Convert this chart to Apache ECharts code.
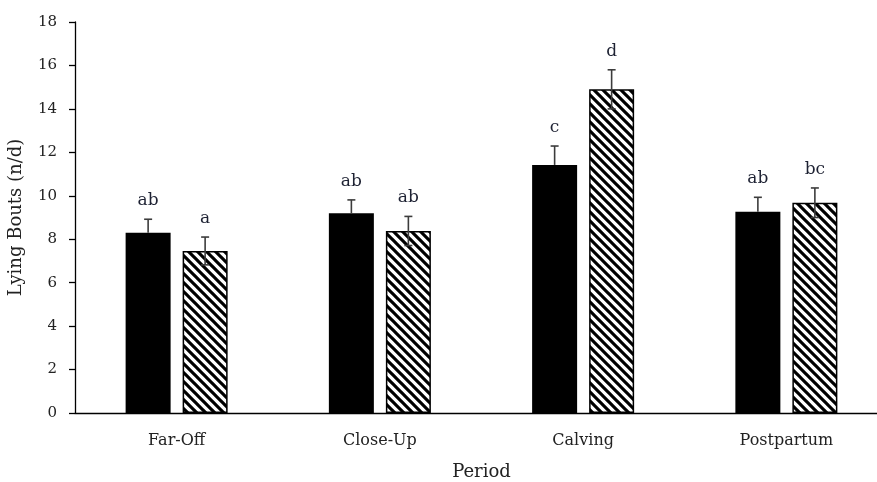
<!DOCTYPE html>
<html>
<head>
<meta charset="utf-8">
<script src="https://cdn.jsdelivr.net/npm/echarts@6/dist/echarts.min.js"></script>
<style>html,body{margin:0;padding:0;background:#fff}#c{width:877px;height:482px}</style>
</head>
<body>
<div id="c"></div>
<script>
// ---- data ----
const categories = ['Far-Off', 'Close-Up', 'Calving', 'Postpartum'];
const solidValues = [8.30, 9.19, 11.42, 9.27];
const solidErrors = [0.62, 0.62, 0.87, 0.66];
const solidLetters = ['ab', 'ab', 'c', 'ab'];
const hatchValues = [7.46, 8.38, 14.90, 9.68];
const hatchErrors = [0.64, 0.67, 0.90, 0.68];
const hatchLetters = ['a', 'ab', 'd', 'bc'];
const yTicks = [0, 2, 4, 6, 8, 10, 12, 14, 16, 18];

// ---- styles ----
const FONT = 'DejaVu Serif';
const BAR_W = 45;
const BAR_GAP_PX = 12;
const OFFSET = (BAR_W + BAR_GAP_PX) / 2;

function makeHatch() {
  const s = 9;
  const cv = document.createElement('canvas');
  cv.width = s; cv.height = s;
  const ctx = cv.getContext('2d');
  ctx.fillStyle = '#fff';
  ctx.fillRect(0, 0, s, s);
  ctx.strokeStyle = '#000';
  ctx.lineWidth = 3.1;
  for (let k = -1; k <= 1; k++) {
    ctx.beginPath();
    ctx.moveTo(-2, k * s - 2);
    ctx.lineTo(s + 2, s + k * s + 2);
    ctx.stroke();
  }
  return cv;
}

function errSeries(values, errors, letters, dx, showLower) {
  return {
    type: 'custom',
    z: 5,
    data: values.map((v, i) => [i, v, errors[i], letters[i]]),
    renderItem: function (params, api) {
      const i = api.value(0), v = api.value(1), e = api.value(2);
      const c = api.coord([i, v]);
      const top = api.coord([i, v + e]);
      const bot = api.coord([i, v - e]);
      const x = c[0] + dx;
      const cap = 4;
      const st = { stroke: '#3c3c3c', lineWidth: 1.6 };
      const ch = [
        { type: 'line', shape: { x1: x, y1: showLower ? bot[1] : c[1], x2: x, y2: top[1] }, style: st },
        { type: 'line', shape: { x1: x - cap, y1: top[1], x2: x + cap, y2: top[1] }, style: st },
        { type: 'text', style: { text: letters[i], x: x, y: top[1] - 10, textAlign: 'center', textVerticalAlign: 'bottom', font: '17px "' + FONT + '"', fill: '#1e2233' } }
      ];
      if (showLower) {
        ch.push({ type: 'line', shape: { x1: x - cap, y1: bot[1], x2: x + cap, y2: bot[1] }, style: st });
      }
      return { type: 'group', children: ch };
    }
  };
}

const chart = echarts.init(document.getElementById('c'), null, { renderer: 'canvas' });
chart.setOption({
  animation: false,
  backgroundColor: '#fff',
  grid: { left: 75, top: 22, bottom: 69, width: 813, outerBoundsMode: 'none', containLabel: false },
  xAxis: {
    type: 'category',
    data: categories,
    axisLine: { lineStyle: { color: '#000', width: 1.3 } },
    axisTick: { show: false },
    axisLabel: { color: '#222', fontFamily: FONT, fontSize: 16, margin: 20 },
    name: 'Period',
    nameLocation: 'middle',
    nameGap: 50,
    nameTextStyle: { color: '#222', fontFamily: FONT, fontSize: 18 }
  },
  yAxis: {
    type: 'value',
    min: yTicks[0], max: yTicks[yTicks.length - 1], interval: 2,
    axisLine: { show: true, lineStyle: { color: '#000', width: 1.3 } },
    axisTick: { show: true, length: 6, lineStyle: { color: '#000', width: 1.3 } },
    splitLine: { show: false },
    axisLabel: { color: '#222', fontFamily: FONT, fontSize: 15, margin: 18 },
    name: 'Lying Bouts (n/d)',
    nameLocation: 'middle',
    nameGap: 50,
    nameTextStyle: { color: '#222', fontFamily: FONT, fontSize: 18 }
  },
  series: [
    { type: 'bar', data: solidValues, barWidth: BAR_W, barGap: (BAR_GAP_PX / BAR_W * 100).toFixed(1) + '%', itemStyle: { color: '#000' } },
    { type: 'bar', data: hatchValues, barWidth: BAR_W, itemStyle: { color: { image: makeHatch(), repeat: 'repeat' }, borderColor: '#000', borderWidth: 1.5 } },
    errSeries(solidValues, solidErrors, solidLetters, -OFFSET, false),
    errSeries(hatchValues, hatchErrors, hatchLetters, OFFSET, true)
  ]
});
</script>
</body>
</html>
